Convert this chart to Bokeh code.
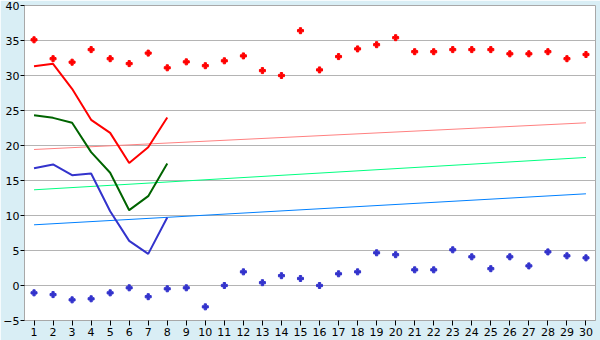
from bokeh.plotting import figure
from bokeh.models import FixedTicker, Range1d
from bokeh.embed import file_html
from bokeh.resources import INLINE

days = list(range(1, 31))
max_pts = [35.1, 32.4, 31.9, 33.7, 32.4, 31.7, 33.2, 31.1, 31.95, 31.4,
           32.1, 32.8, 30.7, 30.0, 36.4, 30.8, 32.7, 33.8, 34.4, 35.4,
           33.4, 33.4, 33.7, 33.7, 33.7, 33.1, 33.1, 33.4, 32.4, 33.0]
min_pts = [-1.05, -1.3, -2.05, -1.9, -1.05, -0.33, -1.6, -0.47, -0.33, -3.05,
           0.0, 1.95, 0.4, 1.4, 1.0, 0.0, 1.67, 1.95, 4.67, 4.4,
           2.24, 2.24, 5.1, 4.1, 2.4, 4.1, 2.8, 4.8, 4.24, 3.95]
line_days = [1, 2, 3, 4, 5, 6, 7, 8]
red_line = [31.33, 31.67, 28.1, 23.67, 21.8, 17.5, 19.76, 24.0]
green_line = [24.33, 23.95, 23.24, 19.05, 16.1, 10.76, 12.76, 17.43]
blue_line = [16.76, 17.3, 15.76, 16.0, 10.6, 6.38, 4.52, 9.71]
trend_days = [1, 30]
red_trend = [19.43, 23.24]
green_trend = [13.67, 18.29]
blue_trend = [8.67, 13.1]
y_ticks = [-5, 0, 5, 10, 15, 20, 25, 30, 35, 40]

bg = "#d9eef5"
p = figure(width=600, height=340, output_backend="svg", toolbar_location=None,
           x_range=Range1d(0.5, 30.5), y_range=Range1d(-5, 40),
           min_border_left=20, min_border_right=5, min_border_top=5, min_border_bottom=20)
p.background_fill_color = "white"
p.border_fill_color = bg
p.outline_line_color = "#a8a8a8"
p.outline_line_width = 1

p.xgrid.grid_line_color = None
p.ygrid.grid_line_color = "#b4b4b4"
p.ygrid.ticker = FixedTicker(ticks=y_ticks)

for ax in (p.xaxis, p.yaxis):
    ax.axis_line_color = "#a8a8a8"
    ax.major_tick_line_color = "black"
    ax.minor_tick_line_color = None
    ax.major_tick_in = 0
    ax.major_label_text_font = "DejaVu Sans"
    ax.major_label_text_font_size = "11px"
    ax.major_label_text_color = "black"
p.xaxis.ticker = FixedTicker(ticks=days)
p.yaxis.ticker = FixedTicker(ticks=y_ticks)
p.xaxis.major_tick_out = 5
p.yaxis.major_tick_out = 4
p.xaxis.major_label_standoff = 2
p.yaxis.major_label_standoff = 1

p.line(trend_days, red_trend, line_color="#ff8080", line_width=1)
p.line(trend_days, green_trend, line_color="#00ff80", line_width=1)
p.line(trend_days, blue_trend, line_color="#0080ff", line_width=1)

p.line(line_days, red_line, line_color="#ff0000", line_width=2)
p.line(line_days, green_line, line_color="#006400", line_width=2)
p.line(line_days, blue_line, line_color="#3333cc", line_width=2)

p.scatter(days, max_pts, marker="plus", size=6, fill_color="#ff0000", line_color="#ff0000")
p.scatter(days, min_pts, marker="plus", size=6, fill_color="#3333cc", line_color="#3333cc")

open("out.html", "w").write(file_html(p, INLINE))
